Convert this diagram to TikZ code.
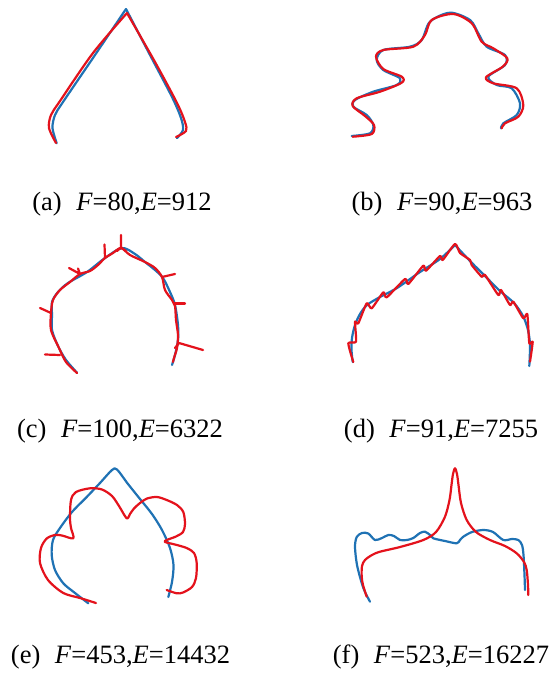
\documentclass[tikz,border=0pt]{standalone}
\usepackage{fontspec}
\setmainfont{Liberation Serif}
\definecolor{cblue}{RGB}{31,114,180}
\definecolor{cred}{RGB}{228,18,28}
\begin{document}
\begin{tikzpicture}[x=1pt,y=-1pt,
  bl/.style={draw=cblue,line width=2.2pt,line cap=round,line join=round},
  rd/.style={draw=cred,line width=2.2pt,line cap=round,line join=round},
  captxt/.style={font=\fontsize{26.5}{30}\selectfont,anchor=base,inner sep=0pt}]
\useasboundingbox[fill=white] (0,0) rectangle (556,677);

% ---------- (a)
\draw[bl] plot[smooth] coordinates {(56.7,143.3) (52.5,128) (55,115) (63,102) (95,55) (126,9)}
          plot[smooth] coordinates {(126,9) (150,55) (172,97) (181,118) (183,130) (177,138)};
\draw[rd] plot[smooth] coordinates {(56,143) (49,128) (51,115) (60,101) (93,53) (127,13)}
          plot[smooth] coordinates {(127,13) (155,62) (177,103) (185,122) (186,131) (176,137)};
\node[captxt] (capa) at (122,210) {(a)\hspace{0.55em}\textit{F}=80,\textit{E}=912};

% ---------- (b)
\draw[bl] plot[smooth] coordinates {(351.7,136) (370,133.3) (373.3,125) (366.7,115) (353.3,106.7) (355,100) (373.3,91.7) (396.7,85) (400,78.3) (383.3,70) (376.7,60) (383.3,50) (410,46.7) (421.7,40) (430,21.7) (450,12.7) (470,20) (478.3,33.3) (486.7,46.7) (505,55) (505,65) (488.3,76.7) (496.7,85) (511.7,88.3) (520,103.3) (516.7,115) (503.3,123.3) (501,128.3)};
\draw[rd] plot[smooth] coordinates {(352.7,136.7) (371.7,134) (374,125) (365,116) (352.7,106) (356.7,98.3) (380,91.7) (401.7,82.7) (401.7,76.7) (383.3,69) (376,56.7) (383.3,50) (413.3,46.7) (425,35) (431.7,20) (453.3,14) (471.7,23.3) (481.7,41.7) (493.3,48.3) (507.3,58.3) (502.7,66.7) (486,77.3) (493.3,83.3) (516.7,88.3) (523.3,105) (518.3,116.7) (505,123.3) (501.7,128.3)};
\node[captxt] (capb) at (442,210) {(b)\hspace{0.55em}\textit{F}=90,\textit{E}=963};

% ---------- (c)
\draw[bl] plot[smooth] coordinates {(77,372.7) (66,360) (58,346) (52,330) (52,315) (52,302) (58,292) (68,283) (87,272) (105,258) (122,248) (135,254) (145,262) (155,270) (163,278) (170,292) (175,305) (178,325) (178,340) (175,355) (172,365)};
\draw[rd] plot[smooth] coordinates {(77,373) (66,362) (59,348) (51,330) (51,313) (53,300) (60,290) (70,282) (80,274) (90,271) (98,265) (105,258) (113,253) (121,248) (130,255) (145,262) (155,268) (162,277) (165,290) (172,300) (175,306) (176,320) (178,335) (177,348) (174,358) (173,362)};
\draw[rd] (121,248) -- (121,235) (117,251) -- (121,247.5) -- (126,251);
\draw[rd] (105,258) -- (104.5,244.5);
\draw[rd] (80,274) -- (69,268) (80,274) -- (78,268.5);
\draw[rd] (51,313) -- (40,308);
\draw[rd] (60,355) -- (45,354.5);
\draw[rd] (162,277) -- (175,274);
\draw[rd] (174,303.5) -- (185,303.5);
\draw[rd] (179,343) -- (203,350) (179,343) -- (175,348);
\node[captxt] (capc) at (120,437) {(c)\hspace{0.55em}\textit{F}=100,\textit{E}=6322};

% ---------- (d)
\draw[bl] plot[smooth] coordinates {(352.7,362) (351.5,350) (352,338) (355,325) (360,314) (367,305) (380,297) (397,288) (420,272) (440,259) (455,245)}
          plot[smooth] coordinates {(455,245) (470,261) (485,276) (500,291) (514,303) (523,316) (528,330) (530,345) (529.3,366)};
\draw[rd] plot[smooth,tension=0.35] coordinates {(353.3,362) (348.3,343.3) (356,341.7) (355,321.7) (358.3,323.3) (366.7,303.3) (371.7,308.3) (383.3,292.3) (386.7,297.3) (405,279) (408.3,284) (423.3,265.7) (426,270.7) (440,256) (442.7,260) (455,244) (460,253) (470,260) (471.7,265) (481.7,276.7) (485,275) (498.3,295) (501,290) (510,305) (513.3,301.7) (523.3,318.3) (527.3,314) (529.3,343.3) (532.7,341.7) (530,361.7)};
\node[captxt] (capd) at (441,437) {(d)\hspace{0.55em}\textit{F}=91,\textit{E}=7255};

% ---------- (e)
\draw[bl] plot[smooth] coordinates {(88.3,603.3) (75,593) (63.3,583.3) (55,570) (51.7,555) (53,540) (60,528) (72,512) (86.7,497) (100,483) (112,470) (117,469.5) (128,484) (140,499) (152,514) (162,530) (170,548) (173.5,565) (172,582) (168.3,597)};
\draw[rd] plot[smooth] coordinates {(96,603) (80,598) (63.3,593) (48,580) (40,563) (41,548) (46.7,538.5) (55,535) (62,535.5) (73.3,538.3) (71,528) (70,518) (71,500) (76,492) (90,488.3) (102,489.5) (112,496) (119,506) (126.7,518.3) (130,514) (134,508.5) (140,503) (147,498.5) (157,497) (166.7,500) (177,505) (183.3,512) (185,524) (183,532) (176,536.5) (166.7,540) (165,542) (175,544.5) (186.7,548) (194,553) (196.7,563) (196,578) (192,587) (183,592.5) (176.7,593.3) (166.7,590)};
\node[captxt] (cape) at (120.5,663) {(e)\hspace{0.55em}\textit{F}=453,\textit{E}=14432};

% ---------- (f)
\draw[bl] plot[smooth] coordinates {(370,601.7) (365,592) (361.7,583) (357,565) (355,547) (356.7,537) (362,533) (368.3,533.5) (375,540) (382,538) (388.3,535) (394,536) (400,540) (407,540) (413.3,538) (420,533) (425,531.7) (430,535) (433.3,538.3) (445,541) (456.7,543.3) (460,540) (463.3,536.7) (472,532) (483.3,530) (493,532) (503.3,540) (512,539) (518.3,540) (522,545) (523.5,555) (524.5,575) (525,590)};
\draw[rd] plot[smooth] coordinates {(366.7,596.7) (363,585) (361.7,576.7) (362,566) (365,560) (372,555) (380,551.7) (400,547) (423.3,540) (436,532) (445,516.7) (449.5,500) (451.5,485) (453,474) (455,468.3) (457,474) (458.5,485) (461,503) (466.7,520) (476,532) (490,540) (505,546) (516.7,553.3) (524,562) (526.7,570) (528,585) (528.3,595)};
\node[captxt] (capf) at (441,663) {(f)\hspace{0.55em}\textit{F}=523,\textit{E}=16227};
\end{tikzpicture}
\end{document}
